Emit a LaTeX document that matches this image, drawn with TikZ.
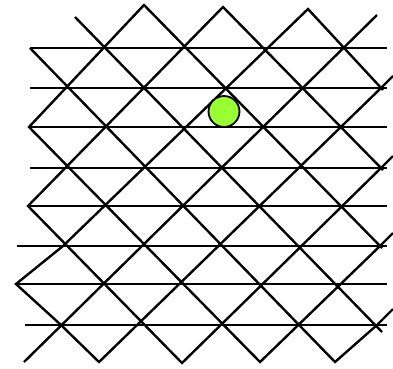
\documentclass[tikz,border=0pt]{standalone}
\definecolor{limegreen}{RGB}{153,255,51}
\begin{document}
\begin{tikzpicture}[x=1pt,y=-1pt,gridline/.style={line width=2.4pt}]
\useasboundingbox (0,0) rectangle (393,368);
\foreach \y/\xa in {48/30,88/30,127/29,168/30,206/28,246/17,284/16,325/25}
  \draw[gridline] (\xa,\y) -- (387,\y);
\draw[gridline] (75,17) -- (382,332);
\draw[gridline] (24,362) -- (377,15);
\draw[gridline] (30,48) -- (335,362) -- (377,325) -- (393,309);
\draw[gridline] (383,90) -- (308,9) -- (63,246) -- (16,284) -- (61,325) -- (99,362) -- (381,88) -- (393,76);
\draw[gridline] (383,170) -- (223,7) -- (28,206) -- (182,363) -- (381,168) -- (393,156);
\draw[gridline] (382,248) -- (144,5) -- (29,127) -- (260,362) -- (380,246) -- (393,233);
\draw[fill=limegreen,line width=1.8pt] (224,111.5) circle (15.5pt);
\end{tikzpicture}
\end{document}
